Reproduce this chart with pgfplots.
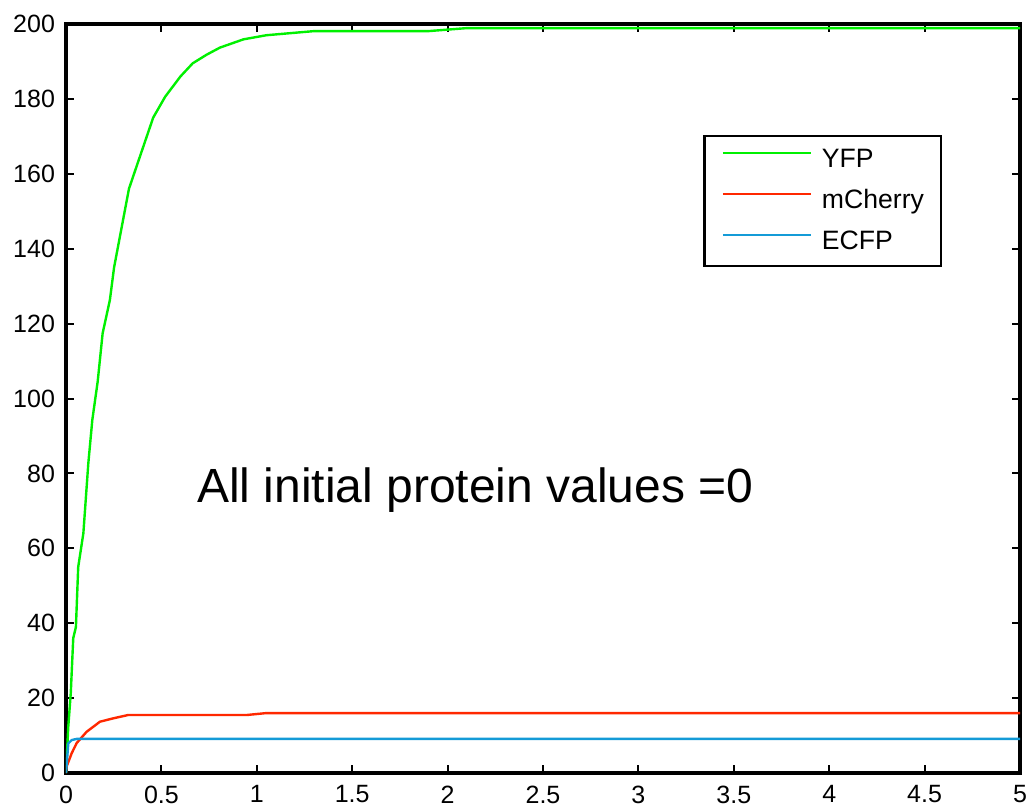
\documentclass[border=0pt]{standalone}
\usepackage{pgfplots}
\pgfplotsset{compat=1.18}
\usepackage{fontspec}
\setmainfont{Liberation Sans}
\definecolor{yfp}{RGB}{0,240,0}
\definecolor{mch}{RGB}{255,40,0}
\definecolor{ecfp}{RGB}{20,155,215}
\begin{document}
\begin{tikzpicture}
\begin{axis}[
    scale only axis,
    width=477pt, height=374.5pt,
    xmin=0, xmax=5, ymin=0, ymax=200,
    xtick={0,0.5,...,5}, ytick={0,20,...,200},
    tick align=inside,
    major tick length=4pt,
    axis line style={line width=1.6pt},
    every tick/.style={black, line width=1pt},
    tick label style={font=\fontsize{12.5}{14}\selectfont},
    xticklabel style={yshift=-2.8pt},
    yticklabel style={xshift=-2pt},
    /pgf/number format/assume math mode=true,
    legend style={at={(rel axis cs:0.668,0.852)}, anchor=north west,
        draw=black, line width=1.3pt, font=\fontsize{13.3}{15}\selectfont,
        inner xsep=8.5pt, inner ysep=5.5pt, row sep=7.5pt,
        nodes={inner sep=0pt, text height=10pt, text depth=3pt},
        /tikz/every odd column/.append style={column sep=5pt}},
    legend cell align=left,
    legend image code/.code={\draw[#1, line width=1.2pt] (0pt,3.5pt) -- (44pt,3.5pt);},
]
\addplot[yfp, line width=1.2pt] coordinates {
(0,0) (0.012,12.4) (0.025,21.3) (0.038,36) (0.052,39) (0.064,55) (0.091,64)
(0.117,82.7) (0.138,94.3) (0.166,104.5) (0.192,117.4) (0.23,126.3) (0.252,135)
(0.33,156) (0.37,162) (0.457,175) (0.52,180.6) (0.6,186) (0.664,189.5)
(0.737,191.8) (0.807,193.7) (0.93,195.9) (1.05,197) (1.3,198.1) (1.9,198.1)
(2.1,198.9) (5,198.9)
};
\addlegendentry{YFP}
\addplot[mch, line width=1.2pt] coordinates {
(0,0) (0.003,1.7) (0.03,5.3) (0.056,8) (0.108,11) (0.178,13.7) (0.248,14.6)
(0.327,15.5) (0.95,15.5) (1.05,16) (5,16)
};
\addlegendentry{mCherry}
\addplot[ecfp, line width=1.2pt] coordinates {
(0,0) (0.012,7.9) (0.03,8.8) (0.056,9.1) (5,9.1)
};
\addlegendentry{ECFP}
\node[font=\fontsize{24}{28}\selectfont, anchor=base west, inner sep=0pt] at (axis cs:0.685,72.1) {All initial protein values =0};
\end{axis}
\pgfresetboundingbox
\path (current axis.south west) ++(-33pt,-18pt) rectangle ([shift={(3.5pt,12pt)}]current axis.north east);
\end{tikzpicture}
\end{document}
